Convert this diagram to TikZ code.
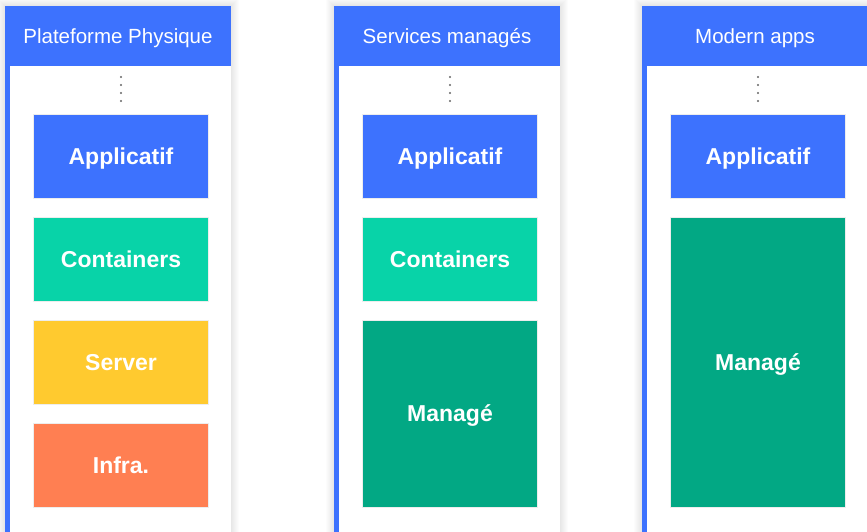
\documentclass[tikz,border=0pt]{standalone}
\usepackage{fontspec}
\setmainfont{Liberation Sans}
\usetikzlibrary{positioning}
\definecolor{hdrblue}{RGB}{61,114,254}
\definecolor{contgreen}{RGB}{8,211,168}
\definecolor{srvyellow}{RGB}{255,202,47}
\definecolor{infraorange}{RGB}{255,127,82}
\definecolor{managegreen}{RGB}{2,168,132}

\begin{document}
\begin{tikzpicture}[x=1pt,y=-1pt,
  header/.style={fill=hdrblue, text=white, inner sep=0pt, minimum width=226pt, minimum height=60pt, text height=14.7pt, text depth=0pt, font=\fontsize{20.5}{24}\selectfont},
  layer/.style={draw=black!7, line width=1pt, text=white, inner sep=0pt, minimum width=175pt, minimum height=84pt, text height=16.5pt, text depth=0pt, font=\bfseries\fontsize{23}{28}\selectfont}]
\useasboundingbox (0,0) rectangle (867,531);

% panels with soft shadow and blue left edge
\foreach \L in {5,334,642} {
  \foreach \s in {1,...,8}
    \fill [black, opacity=0.012] (\L-\s,6-\s) rectangle (\L+226+\s,540);
  \fill [white] (\L,6) rectangle (\L+226,540);
  \fill [hdrblue] (\L,6) rectangle (\L+5,540);
  \foreach \k in {0,...,3}
    \fill [black!60] (\L+116,77+8*\k) circle (1.1pt);
}

% Plateforme physique
\node [header] (hdrA) at (118,36) {Plateforme Physique};
\node [layer, fill=hdrblue] (appA) at (121,156) {Applicatif};
\node [layer, fill=contgreen, below=18pt of appA] (contA) {Containers};
\node [layer, fill=srvyellow, below=18pt of contA] (srvA) {Server};
\node [layer, fill=infraorange, below=18pt of srvA] (infraA) {Infra.};

% Services manages
\node [header] (hdrB) at (447,36) {Services managés};
\node [layer, fill=hdrblue] (appB) at (450,156) {Applicatif};
\node [layer, fill=contgreen, below=18pt of appB] (contB) {Containers};
\node [layer, fill=managegreen, minimum height=187pt, below=18pt of contB] (mngB) {Managé};

% Modern apps
\node [header] (hdrC) at (755,36) {Modern apps};
\node [layer, fill=hdrblue] (appC) at (758,156) {Applicatif};
\node [layer, fill=managegreen, minimum height=290pt, below=18pt of appC] (mngC) {Managé};
\end{tikzpicture}
\end{document}
